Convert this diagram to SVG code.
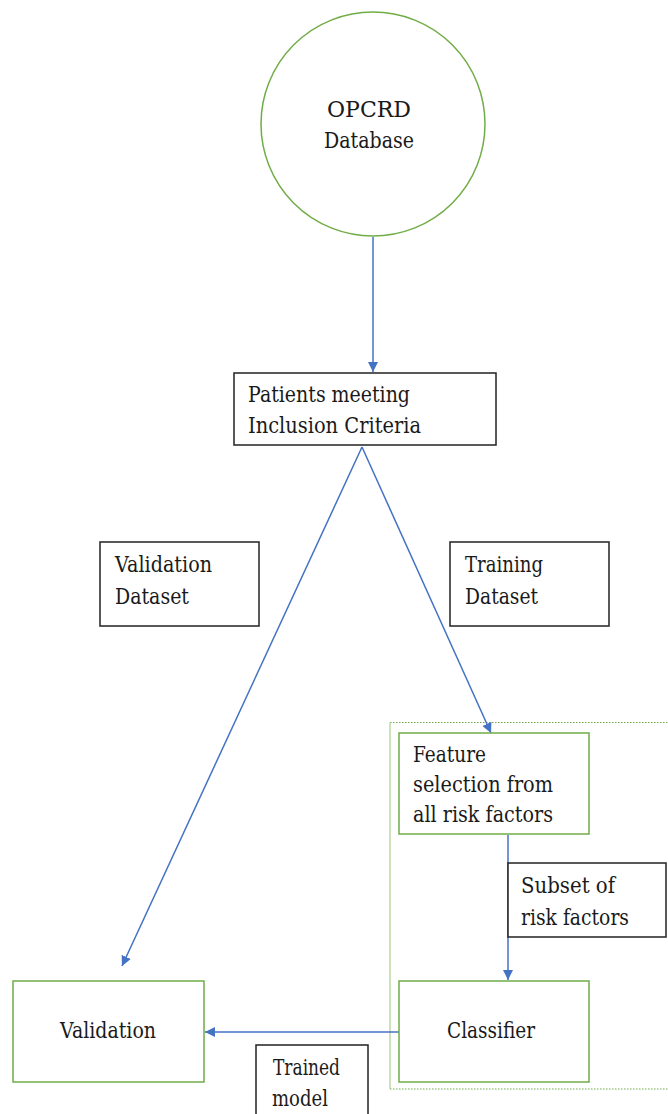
<svg xmlns="http://www.w3.org/2000/svg" width="668" height="1114" viewBox="0 0 668 1114">
<defs>
<style>
.t{font-family:'DejaVu Serif','Liberation Serif',serif;font-size:22px;fill:#1a1a1a}
.bk{fill:#fff;stroke:#222;stroke-width:1.5}
.gr{fill:#fff;stroke:#70AD47;stroke-width:1.5}
.cn{fill:none;stroke:#4472C4;stroke-width:1.5}
</style>
<marker id="ah" viewBox="0 0 10 10" refX="10" refY="5" markerWidth="10" markerHeight="10" markerUnits="userSpaceOnUse" orient="auto">
<path d="M0,0 L10,5 L0,10 z" fill="#4472C4"/>
</marker>
</defs>
<rect width="668" height="1114" fill="#fff"/>
<g id="container">
<path d="M390,722.5 H668 M390,1089 H668" fill="none" stroke="#70AD47" stroke-width="1" stroke-dasharray="1.5,1.5"/>
<path d="M390,722.5 V1089" fill="none" stroke="#A9D18E" stroke-width="1.2"/>
</g>
<g id="connectors">
<line class="cn" x1="373" y1="237" x2="373" y2="372" marker-end="url(#ah)"/>
<line class="cn" x1="362" y1="447" x2="491" y2="733" marker-end="url(#ah)"/>
<line class="cn" x1="362" y1="447" x2="122" y2="966" marker-end="url(#ah)"/>
<line class="cn" x1="508" y1="835" x2="508" y2="980" marker-end="url(#ah)"/>
<line class="cn" x1="399" y1="1032" x2="205" y2="1032" marker-end="url(#ah)"/>
</g>
<g id="opcrd">
<circle class="gr" cx="373" cy="124" r="112"/>
<text class="t" x="327" y="117" textLength="84" lengthAdjust="spacingAndGlyphs" font-size="23">OPCRD</text>
<text class="t" x="324" y="148" textLength="90" lengthAdjust="spacingAndGlyphs" font-size="23">Database</text>
</g>
<g id="patients">
<rect class="bk" x="234" y="373" width="262" height="72"/>
<text class="t" x="248" y="402" textLength="162" lengthAdjust="spacingAndGlyphs">Patients meeting</text>
<text class="t" x="248" y="433" textLength="173" lengthAdjust="spacingAndGlyphs">Inclusion Criteria</text>
</g>
<g id="validation-dataset">
<rect class="bk" x="100" y="542" width="159" height="84"/>
<text class="t" x="115" y="572" textLength="97" lengthAdjust="spacingAndGlyphs">Validation</text>
<text class="t" x="115" y="604" textLength="74" lengthAdjust="spacingAndGlyphs">Dataset</text>
</g>
<g id="training-dataset">
<rect class="bk" x="450" y="542" width="159" height="84"/>
<text class="t" x="465" y="572" textLength="78" lengthAdjust="spacingAndGlyphs">Training</text>
<text class="t" x="465" y="604" textLength="73" lengthAdjust="spacingAndGlyphs">Dataset</text>
</g>
<g id="feature-selection">
<rect class="gr" x="399" y="733" width="190" height="101"/>
<text class="t" x="413" y="762" textLength="73" lengthAdjust="spacingAndGlyphs">Feature</text>
<text class="t" x="413" y="792" textLength="140" lengthAdjust="spacingAndGlyphs">selection from</text>
<text class="t" x="413" y="822" textLength="140" lengthAdjust="spacingAndGlyphs">all risk factors</text>
</g>
<g id="subset">
<rect class="bk" x="508" y="863" width="158" height="74"/>
<text class="t" x="521" y="893" textLength="94" lengthAdjust="spacingAndGlyphs">Subset of</text>
<text class="t" x="521" y="925" textLength="108" lengthAdjust="spacingAndGlyphs">risk factors</text>
</g>
<g id="validation">
<rect class="gr" x="13" y="981" width="191" height="101"/>
<text class="t" x="60" y="1038" textLength="96" lengthAdjust="spacingAndGlyphs">Validation</text>
</g>
<g id="classifier">
<rect class="gr" x="399" y="981" width="190" height="101"/>
<text class="t" x="447" y="1038" textLength="88" lengthAdjust="spacingAndGlyphs">Classifier</text>
</g>
<g id="trained-model">
<rect class="bk" x="256" y="1045" width="112" height="80"/>
<text class="t" x="273" y="1075" textLength="67" lengthAdjust="spacingAndGlyphs">Trained</text>
<text class="t" x="272" y="1106" textLength="56" lengthAdjust="spacingAndGlyphs">model</text>
</g>
</svg>
